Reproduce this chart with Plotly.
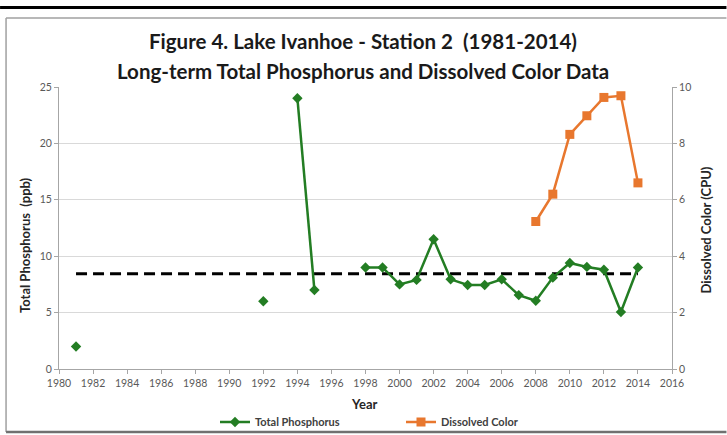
import plotly.graph_objects as go

# ---- data ----
tp_years = [1981, 1992, 1994, 1995, 1998, 1999, 2000, 2001, 2002, 2003, 2004, 2005,
            2006, 2007, 2008, 2009, 2010, 2011, 2012, 2013, 2014]
tp_values = [2.0, 6.0, 24.0, 7.0, 9.0, 9.0, 7.5, 7.9, 11.5, 7.95, 7.45, 7.45,
             7.95, 6.55, 6.05, 8.1, 9.4, 9.05, 8.8, 5.05, 9.0]
# gaps between sampling periods (None breaks the line)
tp_years_plot = [1981, None, 1992, None, 1994, 1995, None] + tp_years[4:]
tp_values_plot = [2.0, None, 6.0, None, 24.0, 7.0, None] + tp_values[4:]

dc_years = [2008, 2009, 2010, 2011, 2012, 2013, 2014]
dc_values = [5.23, 6.2, 8.32, 8.98, 9.63, 9.69, 6.6]

mean_years = [1981, 2014]
mean_tp = [8.45, 8.45]

x_ticks = list(range(1980, 2017, 2))
left_ticks = [0, 5, 10, 15, 20, 25]
right_ticks = [0, 2, 4, 6, 8, 10]

# ---- layout geometry (pixels) ----
WIDTH, HEIGHT = 727, 435
L, R, T, B = 59, 672.5, 87, 369


def px(x):
    return (x - L) / (R - L)


def py(y):
    return (B - y) / (B - T)


GREEN = "#237d23"
ORANGE = "#e8772e"
FONT = "Lato"
TICKC = "#595959"

fig = go.Figure()

fig.add_trace(go.Scatter(
    x=mean_years, y=mean_tp, mode="lines",
    line=dict(color="black", width=3, dash="11px,6px"),
    showlegend=False, hoverinfo="skip"))

fig.add_trace(go.Scatter(
    x=tp_years_plot, y=tp_values_plot, mode="lines+markers",
    name="<b>Total Phosphorus</b>",
    line=dict(color=GREEN, width=2.5),
    marker=dict(symbol="diamond", size=8, color=GREEN),
    connectgaps=False))

fig.add_trace(go.Scatter(
    x=dc_years, y=dc_values, mode="lines+markers", name="<b>Dissolved Color</b>",
    line=dict(color=ORANGE, width=2.5),
    marker=dict(symbol="square", size=9, color=ORANGE),
    yaxis="y2"))

axis_line = "#a6a6a6"
tick_font = dict(size=10.5, color=TICKC, family=FONT)

fig.update_layout(
    width=WIDTH, height=HEIGHT,
    margin=dict(l=L, r=WIDTH - R, t=T, b=HEIGHT - B),
    paper_bgcolor="white", plot_bgcolor="white",
    font=dict(family=FONT, color=TICKC, size=10),
    xaxis=dict(range=[1980, 2016], tickvals=x_ticks, ticktext=[str(v) for v in x_ticks],
               showgrid=False, zeroline=False, showline=True, linecolor=axis_line,
               linewidth=1, ticks="outside", ticklen=4, tickcolor=axis_line,
               tickfont=tick_font),
    yaxis=dict(range=[0, 25], tickvals=left_ticks, showgrid=True, gridcolor="#d9d9d9",
               gridwidth=1, zeroline=False, showline=True, linecolor=axis_line,
               ticks="outside", ticklen=4, tickcolor=axis_line,
               tickfont=tick_font),
    yaxis2=dict(range=[0, 10], tickvals=right_ticks, overlaying="y", side="right",
                showgrid=False, zeroline=False, showline=True, linecolor=axis_line,
                ticks="outside", ticklen=4, tickcolor=axis_line,
                tickfont=tick_font),
    legend=dict(orientation="h", xref="container", yref="container",
                x=215 / WIDTH, xanchor="left", y=1 - 422 / HEIGHT, yanchor="middle",
                font=dict(size=11, color="#404040", family=FONT),
                itemwidth=30, entrywidth=141, bgcolor="rgba(0,0,0,0)"),
    showlegend=True,
)

title_font = dict(family=FONT, size=20.5, color="#1a1a1a")
fig.add_annotation(text="<b>Figure 4. Lake Ivanhoe - Station 2&nbsp;&nbsp;(1981-2014)</b>",
                   x=px(363), y=py(41), xref="paper", yref="paper",
                   showarrow=False, font=title_font, xanchor="center", yanchor="middle")
fig.add_annotation(text="<b>Long-term Total Phosphorus and Dissolved Color Data</b>",
                   x=px(363), y=py(71), xref="paper", yref="paper",
                   showarrow=False, font=title_font, xanchor="center", yanchor="middle")

lab_font = dict(family=FONT, size=13, color="#262626")
fig.add_annotation(text="<b>Total Phosphorus&nbsp;&nbsp;(ppb)</b>", x=px(25), y=py(245),
                   xref="paper", yref="paper", showarrow=False, textangle=-90,
                   font=lab_font, xanchor="center", yanchor="middle")
fig.add_annotation(text="<b>Dissolved Color (CPU)</b>", x=px(707), y=py(230),
                   xref="paper", yref="paper", showarrow=False, textangle=-90,
                   font=lab_font, xanchor="center", yanchor="middle")
fig.add_annotation(text="<b>Year</b>", x=px(364), y=py(404),
                   xref="paper", yref="paper", showarrow=False,
                   font=lab_font, xanchor="center", yanchor="middle")

# frame lines
fig.add_shape(type="line", xref="paper", yref="paper", x0=px(0), x1=px(727),
              y0=py(7.5), y1=py(7.5), line=dict(color="black", width=3))
fig.add_shape(type="line", xref="paper", yref="paper", x0=px(6), x1=px(727),
              y0=py(18), y1=py(18), line=dict(color="#a0a0a0", width=1.5))
fig.add_shape(type="line", xref="paper", yref="paper", x0=px(6), x1=px(6),
              y0=py(18), y1=py(432), line=dict(color="#a0a0a0", width=1.5))
fig.add_shape(type="line", xref="paper", yref="paper", x0=px(6), x1=px(727),
              y0=py(432), y1=py(432), line=dict(color="#707070", width=2.5))

fig.write_html("out.html",
               config={"displayModeBar": False},
               post_script="document.body.style.margin='0';"
                           "document.body.style.overflow='hidden';")
